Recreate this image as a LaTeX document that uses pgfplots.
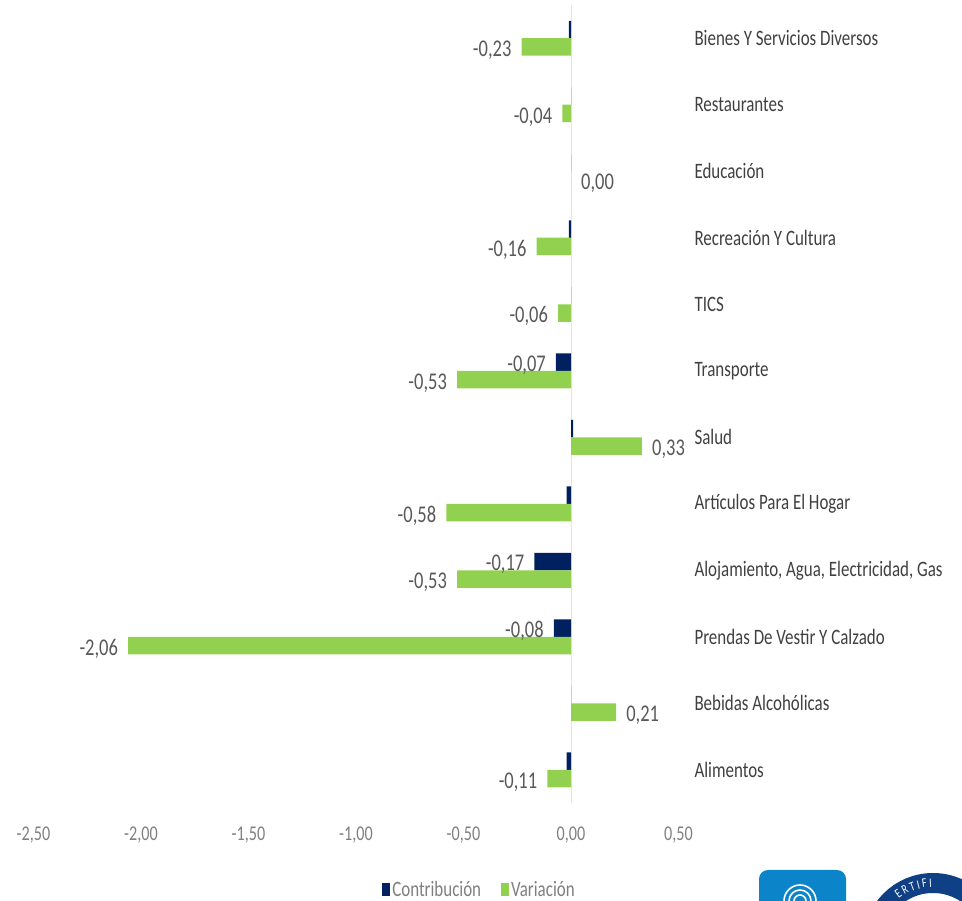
\documentclass[border=0pt]{standalone}
\usepackage{pgfplots}
\pgfplotsset{compat=1.18}
\usepackage{fontspec}
\usetikzlibrary{decorations.text}
\setmainfont[FakeStretch=0.77]{Carlito}
\definecolor{navybar}{HTML}{002060}
\definecolor{greenbar}{HTML}{92D050}
\definecolor{lab}{HTML}{595959}
\definecolor{ticklab}{HTML}{7F7F7F}
\definecolor{catlab}{HTML}{404040}
\definecolor{logoblue}{HTML}{0B84C9}
\definecolor{sealblue}{HTML}{0F3F85}
\pgfplotsset{
  labelneg/.style={draw=none,mark=none,forget plot,point meta=explicit symbolic,nodes near coords,
    every node near coord/.style={font=\fontsize{24bp}{24bp}\selectfont,text=lab,anchor=east,inner sep=0pt,xshift=-10bp,yshift=#1}},
  labelpos/.style={draw=none,mark=none,forget plot,point meta=explicit symbolic,nodes near coords,
    every node near coord/.style={font=\fontsize{24bp}{24bp}\selectfont,text=lab,anchor=west,inner sep=0pt,xshift=10bp,yshift=#1}},
}
\begin{document}
\begin{tikzpicture}[x=1bp,y=1bp]
\useasboundingbox (0,0) rectangle (962,901);
\clip (0,0) rectangle (962,901);
% logos
\fill[logoblue,rounded corners=9bp] (759,-20) rectangle (846,31);
\draw[white,line width=1.6bp] (784,0) arc[start angle=180,end angle=0,radius=16bp];
\draw[white,line width=1.6bp] (789,0) arc[start angle=180,end angle=0,radius=11bp];
\draw[white,line width=1.6bp] (794,0) arc[start angle=180,end angle=0,radius=6bp];
\draw[sealblue,line width=20bp] (933,-42) circle[radius=60bp];
\path[decorate,decoration={text along path,text={|\fontsize{13bp}{13bp}\selectfont\color{white}|E R T I F I},text align={left}}]
  (933,-42) ++(128:56bp) arc[start angle=128,end angle=40,radius=56bp];
\begin{axis}[
  at={(33.5bp,97.8bp)},anchor=south west,
  scale only axis,width=645bp,height=798.2bp,
  xmin=-2.5,xmax=0.5,ymin=-0.5,ymax=11.5,
  axis line style={draw=none},
  major tick length=0pt,
  xtick={-2.5,-2,-1.5,-1,-0.5,0,0.5},
  xticklabels={{-2,50},{-2,00},{-1,50},{-1,00},{-0,50},{0,00},{0,50}},
  x tick label style={font=\fontsize{21bp}{21bp}\selectfont,text=ticklab,yshift=-20bp},
  ytick={0,...,11},
  yticklabel pos=right,
  yticklabels={Alimentos,Bebidas Alcohólicas,Prendas De Vestir Y Calzado,{Alojamiento, Agua, Electricidad, Gas},Artículos Para El Hogar,Salud,Transporte,TICS,Recreación Y Cultura,Educación,Restaurantes,Bienes Y Servicios Diversos},
  y tick label style={font=\fontsize{22bp}{22bp}\selectfont,text=catlab,anchor=west,xshift=12.5bp},
  clip=false,
  legend style={at={(0.6915,-0.1085)},anchor=center,draw=none,fill=none,legend columns=2,
    font=\fontsize{22bp}{22bp}\selectfont,text=ticklab,
    /tikz/every even column/.append style={column sep=18bp},inner sep=0pt},
  legend image code/.code={\fill[#1] (0bp,-6.5bp) rectangle (8bp,6.5bp);},
]
\draw[black!10,line width=1bp] (axis cs:0,-0.5) -- (axis cs:0,11.5);
\addplot[xbar,bar width=17.5bp,bar shift=8.7bp,draw=none,fill=navybar] coordinates {
 (-0.02,0)
 (0,1)
 (-0.08,2)
 (-0.17,3)
 (-0.02,4)
 (0.01,5)
 (-0.07,6)
 (0,7)
 (-0.01,8)
 (0,9)
 (0,10)
 (-0.01,11)
};
\addplot[xbar,bar width=17.5bp,bar shift=-8.7bp,draw=none,fill=greenbar] coordinates {
 (-0.11,0)
 (0.21,1)
 (-2.06,2)
 (-0.53,3)
 (-0.58,4)
 (0.33,5)
 (-0.53,6)
 (-0.06,7)
 (-0.16,8)
 (0,9)
 (-0.04,10)
 (-0.23,11)
};
\legend{Contribución,Variación}
\addplot[labelneg=6bp] coordinates {
 (-0.08,2) [{-0,08}]
 (-0.17,3) [{-0,17}]
 (-0.07,6) [{-0,07}]
};
\addplot[labelneg=-12bp] coordinates {
 (-0.11,0) [{-0,11}]
 (-2.06,2) [{-2,06}]
 (-0.53,3) [{-0,53}]
 (-0.58,4) [{-0,58}]
 (-0.53,6) [{-0,53}]
 (-0.06,7) [{-0,06}]
 (-0.16,8) [{-0,16}]
 (-0.04,10) [{-0,04}]
 (-0.23,11) [{-0,23}]
};
\addplot[labelpos=-12bp] coordinates {
 (0.21,1) [{0,21}]
 (0.33,5) [{0,33}]
 (0,9) [{0,00}]
};
\end{axis}
\end{tikzpicture}
\end{document}
